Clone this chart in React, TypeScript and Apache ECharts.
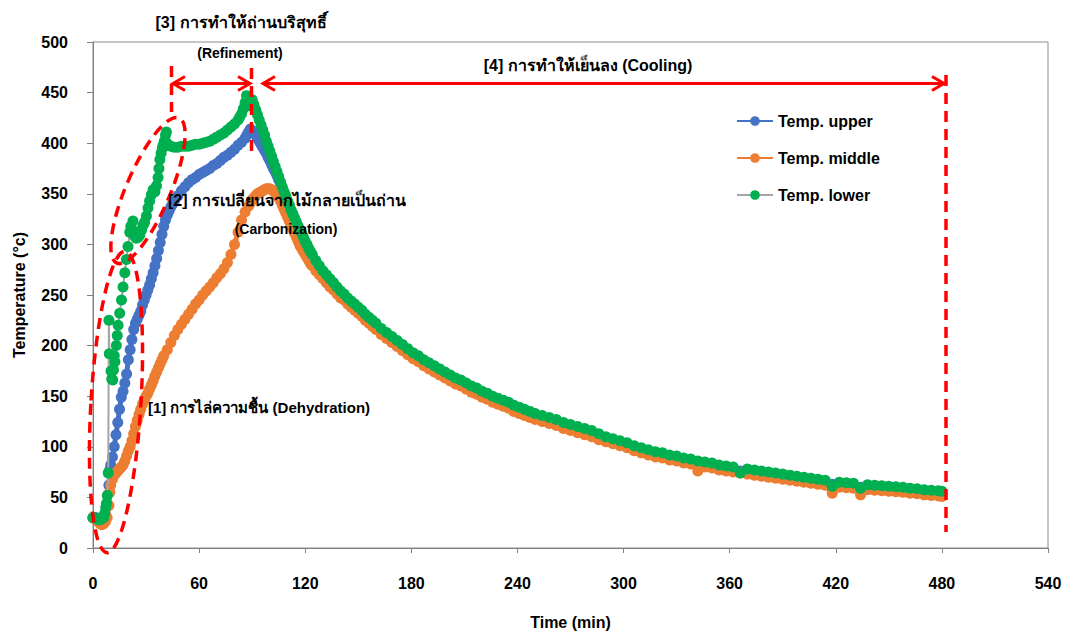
import React, { useEffect, useRef } from "react";
import * as echarts from "echarts";

// ---------- data (time in min, temperature in °C) ----------
const seriesNames = ["Temp. upper", "Temp. middle", "Temp. lower"];

const upperEarlyTime = [0,1,2,3,4,5,6,7,8,9,9.5,10,11,12,13,14,15,16,17,18,19,20,21,22,23,24,25,26,27,28,29,30,31,32,33,34,35,36,37,38,39,40,41,42,43,44,45,46,48,50,52,54,56,58,60,62,64,66,68,70,72,74,76,78,80,82,84,86,87,88,89];
const upperEarlyTemp = [30,30,30,29,29,30,31,33,42,62,77,82,90,100,112,124,137,149,155,163,172,186,196,206,216,222,226,230,234,240,245,250,255,260,266,272,279,286,294,302,310,318,324,329,333,337,340,343,348,353,357,361,364,366,369,371,373,375,378,380,383,386,388,391,394,398,401,405,408,411,414];

const middleEarlyTime = [0,1,2,3,4,5,6,7,8,9,9.5,10,11,12,13,14,15,16,17,18,19,20,21,22,23,24,25,26,27,28,29,30,31,32,33,34,35,36,37,38,39,40,42,44,46,48,50,52,54,56,58,60,62,64,66,68,70,72,74,76,78,80,82,84,86,88,89];
const middleEarlyTemp = [30,29,28,26,24,23,24,26,30,42,55,62,68,72,74,76,78,80,82,86,91,96,100,106,113,120,126,132,137,142,146,150,153,157,161,165,170,174,178,182,186,190,196,203,210,216,221,226,231,236,241,245,250,254,258,262,267,271,276,282,290,300,312,324,332,338,341];

const lowerEarlyTime = [0,1,2,3,4,5,6,6.6,7.2,7.6,8.1,8.6,9.0,9.2,10.2,10.6,11.2,11.6,12,12.4,13.2,13.7,14.2,15.1,16.1,17,18,18.9,19.8,20.8,21.4,22.6,23,23.6,24.5,25.5,26.4,27.4,28.3,29.2,30.2,31.1,32,33,34,35,35.9,36.8,37.3,37.8,38.5,39.2,39.6,40.3,41,41.5,41.8,42.5,44,46,48,50,52,54,56,58,60,62,64,66,68,70,72,74,76,78,80,82,83,84,85,86,86.8,87.5,88.7,89.7];
const lowerEarlyTemp = [30,30,29,28,28,29,30,34,40,44,52,74,225,192,175,167,166,176,190,184,200,210,220,232,245,258,272,285,298,312,318,323,313,308,306,307,309,314,319,322,328,336,343,349,354,352,358,366,375,384,390,395,398,402,408,411,400,398,397,396,396,397,397,397,398,399,399,400,401,402,404,406,408,410,413,416,419,423,426,429,434,440,447,441,437,442];

const coolTime = [90,91,92,93,94,95,96,97,98,99,100,101,102,103,104,105,106,107,108,109,110,111,112,113,114,115,116,117,118,119,120,121,122,123,124,
  126,128,130,132,134,136,138,140,142,144,146,148,150,152,154,156,158,160,
  163,166,169,172,175,178,181,184,187,190,193,196,199,202,205,208,211,214,217,220,223,226,229,232,235,238,241,244,247,250,
  254,258,262,266,270,274,278,282,286,290,294,298,302,306,310,314,318,322,326,330,334,338,342,346,350,354,358,362,366,370,374,378,382,386,390,394,398,402,406,410,414,418,422,426,430,434,438,442,446,450,454,458,462,466,470,474,478,480];

const upperCool = [412,410,408,405,402,399,396,393,390,386,383,379,375,372,368,364,360,355,351,347,342,338,333,329,325,321,317,313,309,305,301,297,293,290,287,
  281,276,271,267,263,259,255,251,248,244,241,238,235,232,228,225,222,219,
  214,210,206,202,198,194,190,187,183,180,177,174,171,168,165,163,160,157,155,152,150,147,145,143,141,138,136,134,132,130,
  128,126,124,121,119,117,115,113,110,107,105,103,101,98,96,94,92,91,89,88,86,85,83,82,81,79,78,77,76,75,74,73,72,71,70,69,68,67,66,65,64,63,62,61.5,61,60,59.5,59,58.5,58,57.5,57,56,55.5,54.5,54,53.5,53];

const middleCool = [344,346,348,350,351,352,353,354,355,355,355,354,353,351,349,346,343,339,335,331,327,323,319,315,311,307,303,299,296,293,290,287,284,281,279,
  274,270,266,262,258,255,251,247,245,241,238,235,232,229,225,222,219,216,
  211,207,203,199,195,191,187,184,180,177,174,171,168,165,162,160,157,154,152,149,147,144,142,140,138,135,133,131,129,127,
  125,123,121,118,116,114,112,110,107,105,103,101,99,96,94,92,90,89,87,86,84,83,76,80,79,77,76,75,74,73,72,71,70,69,68,67,66,65,64,63,62,54,60,59.5,59,52.5,57.5,57,56.5,56,55.5,55,54,53.5,52.5,52,51.5,51];

const lowerCool = [443,438,433,428,423,418,413,408,402,397,392,387,382,377,372,367,362,357,352,348,343,339,334,330,326,322,318,314,311,307,303,300,296,293,290,
  284,279,274,270,266,262,258,254,251,247,244,241,238,235,231,228,225,222,
  217,213,209,205,201,197,193,190,186,183,180,177,174,171,168,166,163,160,158,155,153,150,148,146,144,141,139,137,135,133,
  131,129,127,124,122,120,118,116,113,110,108,106,104,101,99,97,95,94,92,91,89,88,86,85,84,82,81,80,74,78,77,76,75,74,73,72,71,70,69,68,67,61,65,64.5,64,59,62.5,62,61.5,61,60.5,60,59,58.5,57.5,57,56.5,56];

const xTicks = { min: 0, max: 540, interval: 60 };
const yTicks = { min: 0, max: 500, interval: 50 };

// ---------- annotations ----------
const labelTexts = {
  refineTh: "[3] การทำให้ถ่านบริสุทธิ์",
  refineEn: "(Refinement)",
  cooling: "[4] การทำให้เย็นลง (Cooling)",
  carbonTh: "[2] การเปลี่ยนจากไม้กลายเป็นถ่าน",
  carbonEn: "(Carbonization)",
  dehydration: "[1] การไล่ความชื้น (Dehydration)",
};

function zip(t: number[], v: number[]) {
  const out: number[][] = [];
  for (let i = 0; i < Math.min(t.length, v.length); i++) out.push([t[i], v[i]]);
  return out;
}

const FONT = "'Liberation Sans', Arial, sans-serif";
const RED = "#FF0000";

export default function App() {
  const ref = useRef<HTMLDivElement>(null);
  useEffect(() => {
    if (!ref.current) return;
    const chart = echarts.init(ref.current, undefined, { renderer: "svg" });

    const upper = zip(upperEarlyTime, upperEarlyTemp).concat(zip(coolTime, upperCool));
    const middle = zip(middleEarlyTime, middleEarlyTemp).concat(zip(coolTime, middleCool));
    const lower = zip(lowerEarlyTime, lowerEarlyTemp).concat(zip(coolTime, lowerCool));

    const dash = { stroke: RED, lineWidth: 3.5, lineDash: [11, 7], fill: "transparent" };
    const solid = { stroke: RED, lineWidth: 3, fill: "transparent" };
    const txt = (x: number, y: number, text: string, size: number, weight: string) => ({
      type: "text", x, y, z: 120,
      style: { text, fontSize: size, fontWeight: weight, fontFamily: FONT, fill: "#000", align: "center", verticalAlign: "middle" },
    });

    const axisCommon = {
      axisLine: { show: true, lineStyle: { color: "#7f7f7f", width: 1 } },
      splitLine: { show: false },
    };

    chart.setOption({
      animation: false,
      backgroundColor: "#ffffff",
      textStyle: { fontFamily: FONT },
      grid: { left: 93, right: 20, top: 42, bottom: 82, show: true, borderColor: "#8c8c8c", borderWidth: 1, backgroundColor: "transparent" },
      xAxis: {
        type: "value", ...xTicks, ...axisCommon,
        axisTick: { show: true, length: 5, lineStyle: { color: "#7f7f7f" } },
        axisLabel: { fontSize: 16, fontWeight: "bold", color: "#000", margin: 27, fontFamily: FONT },
        name: "Time (min)", nameLocation: "middle", nameGap: 66,
        nameTextStyle: { fontSize: 16, fontWeight: "bold", color: "#000", fontFamily: FONT },
      },
      yAxis: {
        type: "value", ...yTicks, ...axisCommon,
        axisTick: { show: true, length: 6, lineStyle: { color: "#7f7f7f" } },
        axisLabel: { fontSize: 16, fontWeight: "bold", color: "#000", margin: 25, fontFamily: FONT },
        name: "Temperature (°c)", nameLocation: "middle", nameGap: 66,
        nameTextStyle: { fontSize: 16, fontWeight: "bold", color: "#000", fontFamily: FONT },
      },
      legend: {
        orient: "vertical", left: 731, top: 108, itemGap: 21, itemWidth: 36, itemHeight: 12,
        data: seriesNames,
        textStyle: { fontSize: 16, fontWeight: "bold", color: "#000", fontFamily: FONT, lineHeight: 16 },
      },
      series: [
        { name: seriesNames[0], type: "line", data: upper, symbol: "circle", symbolSize: 11, showAllSymbol: true,
          itemStyle: { color: "#4472C4" }, lineStyle: { color: "#4472C4", width: 5 }, z: 2 },
        { name: seriesNames[1], type: "line", data: middle, symbol: "circle", symbolSize: 11, showAllSymbol: true,
          itemStyle: { color: "#ED7D31" }, lineStyle: { color: "#ED7D31", width: 5 }, z: 3 },
        { name: seriesNames[2], type: "line", data: lower, symbol: "circle", symbolSize: 11, showAllSymbol: true,
          itemStyle: { color: "#00B050" }, lineStyle: { color: "#A5A5A5", width: 2 }, z: 4 },
      ],
      graphic: [
        // dehydration ellipse
        { type: "ellipse", x: 116, y: 402, rotation: -0.06, z: 110, shape: { cx: 0, cy: 0, rx: 25, ry: 151 }, style: dash },
        // carbonization ellipse
        { type: "ellipse", x: 148, y: 190.5, rotation: -0.405, z: 110, shape: { cx: 0, cy: 0, rx: 22, ry: 79 }, style: dash },
        // vertical dashed boundaries
        { type: "line", z: 110, shape: { x1: 171.5, y1: 66, x2: 171.5, y2: 112 }, style: dash },
        { type: "line", z: 110, shape: { x1: 251.5, y1: 68, x2: 251.5, y2: 153 }, style: dash },
        { type: "line", z: 110, shape: { x1: 946, y1: 75, x2: 946, y2: 532 }, style: dash },
        // refinement arrow
        { type: "line", z: 110, shape: { x1: 173, y1: 83.5, x2: 250, y2: 83.5 }, style: solid },
        { type: "polyline", z: 110, shape: { points: [[185, 76.5], [173, 83.5], [185, 90.5]] }, style: solid },
        { type: "polyline", z: 110, shape: { points: [[238, 76.5], [250, 83.5], [238, 90.5]] }, style: solid },
        // cooling arrow
        { type: "line", z: 110, shape: { x1: 263, y1: 83.5, x2: 944, y2: 83.5 }, style: solid },
        { type: "polyline", z: 110, shape: { points: [[275, 76.5], [263, 83.5], [275, 90.5]] }, style: solid },
        { type: "polyline", z: 110, shape: { points: [[932, 76.5], [944, 83.5], [932, 90.5]] }, style: solid },
        // texts
        txt(241, 22, labelTexts.refineTh, 16, "bold"),
        txt(240, 53, labelTexts.refineEn, 14, "bold"),
        txt(588, 65, labelTexts.cooling, 16, "bold"),
        txt(287, 200, labelTexts.carbonTh, 16, "bold"),
        txt(286, 229, labelTexts.carbonEn, 14, "bold"),
        txt(259, 407, labelTexts.dehydration, 15, "bold"),
      ],
    });
    return () => chart.dispose();
  }, []);
  return (
    <div style={{ position: "fixed", left: 0, top: 0, width: 1068, height: 635, background: "#fff" }}>
      <div ref={ref} style={{ width: 1068, height: 635 }} />
    </div>
  );
}
